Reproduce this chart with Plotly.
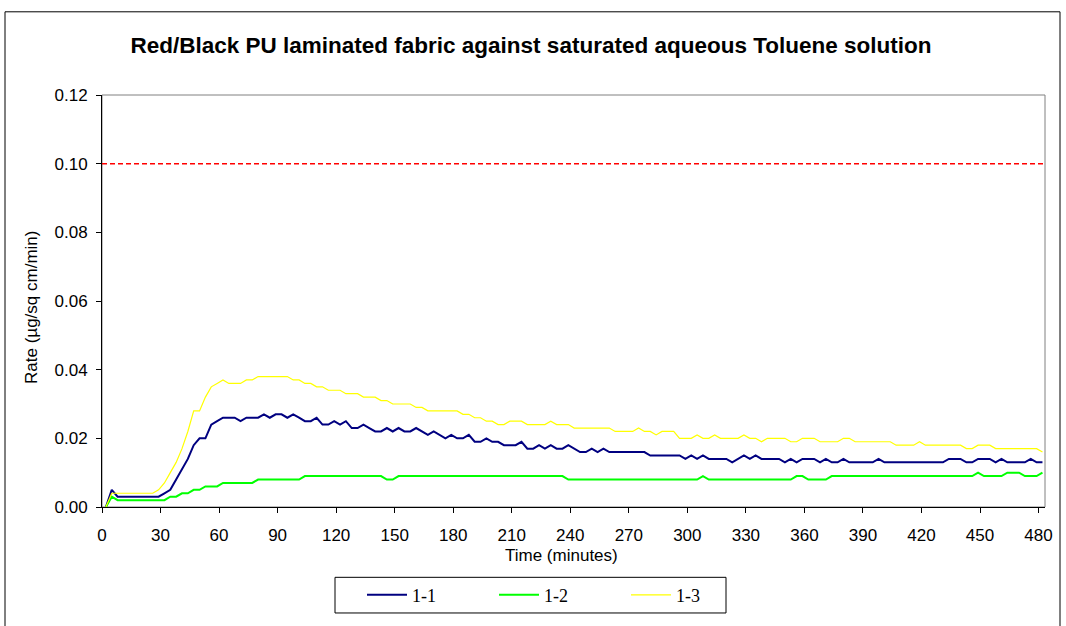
import plotly.graph_objects as go

# ---------------- data ----------------
time_min = list(range(2, 483, 3))  # sampling times (minutes)

rate_1_1 = [
    0.000, 0.005, 0.003, 0.003, 0.003, 0.003, 0.003, 0.003, 0.003, 0.003,
    0.004, 0.005, 0.008, 0.011, 0.014, 0.018, 0.020, 0.020, 0.024, 0.025,
    0.026, 0.026, 0.026, 0.025, 0.026, 0.026, 0.026, 0.027, 0.026, 0.027,
    0.027, 0.026, 0.027, 0.026, 0.025, 0.025, 0.026, 0.024, 0.024, 0.025,
    0.024, 0.025, 0.023, 0.023, 0.024, 0.023, 0.022, 0.022, 0.023, 0.022,
    0.023, 0.022, 0.022, 0.023, 0.022, 0.021, 0.022, 0.021, 0.020, 0.021,
    0.020, 0.020, 0.021, 0.019, 0.019, 0.020, 0.019, 0.019, 0.018, 0.018,
    0.018, 0.019, 0.017, 0.017, 0.018, 0.017, 0.018, 0.017, 0.017, 0.018,
    0.017, 0.016, 0.016, 0.017, 0.016, 0.017, 0.016, 0.016, 0.016, 0.016,
    0.016, 0.016, 0.016, 0.015, 0.015, 0.015, 0.015, 0.015, 0.015, 0.014,
    0.015, 0.014, 0.015, 0.014, 0.014, 0.014, 0.014, 0.013, 0.014, 0.015,
    0.014, 0.015, 0.014, 0.014, 0.014, 0.014, 0.013, 0.014, 0.013, 0.014,
    0.014, 0.014, 0.013, 0.014, 0.013, 0.013, 0.014, 0.013, 0.013, 0.013,
    0.013, 0.013, 0.014, 0.013, 0.013, 0.013, 0.013, 0.013, 0.013, 0.013,
    0.013, 0.013, 0.013, 0.013, 0.014, 0.014, 0.014, 0.013, 0.013, 0.014,
    0.014, 0.014, 0.013, 0.014, 0.013, 0.013, 0.013, 0.013, 0.014, 0.013,
    0.013,
]

rate_1_2 = [
    0.000, 0.003, 0.002, 0.002, 0.002, 0.002, 0.002, 0.002, 0.002, 0.002,
    0.002, 0.003, 0.003, 0.004, 0.004, 0.005, 0.005, 0.006, 0.006, 0.006,
    0.007, 0.007, 0.007, 0.007, 0.007, 0.007, 0.008, 0.008, 0.008, 0.008,
    0.008, 0.008, 0.008, 0.008, 0.009, 0.009, 0.009, 0.009, 0.009, 0.009,
    0.009, 0.009, 0.009, 0.009, 0.009, 0.009, 0.009, 0.009, 0.008, 0.008,
    0.009, 0.009, 0.009, 0.009, 0.009, 0.009, 0.009, 0.009, 0.009, 0.009,
    0.009, 0.009, 0.009, 0.009, 0.009, 0.009, 0.009, 0.009, 0.009, 0.009,
    0.009, 0.009, 0.009, 0.009, 0.009, 0.009, 0.009, 0.009, 0.009, 0.008,
    0.008, 0.008, 0.008, 0.008, 0.008, 0.008, 0.008, 0.008, 0.008, 0.008,
    0.008, 0.008, 0.008, 0.008, 0.008, 0.008, 0.008, 0.008, 0.008, 0.008,
    0.008, 0.008, 0.009, 0.008, 0.008, 0.008, 0.008, 0.008, 0.008, 0.008,
    0.008, 0.008, 0.008, 0.008, 0.008, 0.008, 0.008, 0.008, 0.009, 0.009,
    0.008, 0.008, 0.008, 0.008, 0.009, 0.009, 0.009, 0.009, 0.009, 0.009,
    0.009, 0.009, 0.009, 0.009, 0.009, 0.009, 0.009, 0.009, 0.009, 0.009,
    0.009, 0.009, 0.009, 0.009, 0.009, 0.009, 0.009, 0.009, 0.009, 0.010,
    0.009, 0.009, 0.009, 0.009, 0.010, 0.010, 0.010, 0.009, 0.009, 0.009,
    0.010,
]

rate_1_3 = [
    0.000, 0.004, 0.004, 0.004, 0.004, 0.004, 0.004, 0.004, 0.004, 0.005,
    0.007, 0.010, 0.013, 0.017, 0.022, 0.028, 0.028, 0.032, 0.035, 0.036,
    0.037, 0.036, 0.036, 0.036, 0.037, 0.037, 0.038, 0.038, 0.038, 0.038,
    0.038, 0.038, 0.037, 0.037, 0.036, 0.036, 0.035, 0.035, 0.034, 0.034,
    0.034, 0.033, 0.033, 0.033, 0.032, 0.032, 0.032, 0.031, 0.031, 0.030,
    0.030, 0.030, 0.030, 0.029, 0.029, 0.028, 0.028, 0.028, 0.028, 0.028,
    0.028, 0.027, 0.027, 0.026, 0.026, 0.025, 0.025, 0.024, 0.024, 0.025,
    0.025, 0.025, 0.024, 0.024, 0.024, 0.024, 0.025, 0.024, 0.024, 0.024,
    0.023, 0.023, 0.023, 0.023, 0.023, 0.023, 0.023, 0.022, 0.022, 0.022,
    0.022, 0.023, 0.022, 0.022, 0.021, 0.022, 0.022, 0.022, 0.020, 0.020,
    0.020, 0.021, 0.020, 0.020, 0.021, 0.020, 0.020, 0.020, 0.020, 0.021,
    0.020, 0.020, 0.019, 0.020, 0.020, 0.020, 0.020, 0.019, 0.019, 0.020,
    0.020, 0.020, 0.019, 0.019, 0.019, 0.019, 0.020, 0.020, 0.019, 0.019,
    0.019, 0.019, 0.019, 0.019, 0.019, 0.018, 0.018, 0.018, 0.018, 0.019,
    0.018, 0.018, 0.018, 0.018, 0.018, 0.018, 0.018, 0.017, 0.017, 0.018,
    0.018, 0.018, 0.017, 0.017, 0.017, 0.017, 0.017, 0.017, 0.017, 0.017,
    0.016,
]

series_names = ["1-1", "1-2", "1-3"]
limit_rate = 0.10
x_limit_span = [0, 483.3]

x_ticks = [0, 30, 60, 90, 120, 150, 180, 210, 240, 270, 300, 330, 360, 390, 420, 450, 480]
y_ticks = [0.00, 0.02, 0.04, 0.06, 0.08, 0.10, 0.12]
y_tick_labels = ["0.00", "0.02", "0.04", "0.06", "0.08", "0.10", "0.12"]

title_text = "Red/Black PU laminated fabric against saturated aqueous Toluene solution"
x_title = "Time (minutes)"
y_title = "Rate (µg/sq cm/min)"

# ---------------- layout geometry ----------------
W, H = 1066, 626
ML, MR, MT, MB = 102, 21, 95, 115
PW, PH = W - ML - MR, H - MT - MB


def px_x(p):
    return (p - ML) / PW


def px_y(p):
    return (H - MB - p) / PH


SANS = "Liberation Sans, Arial, sans-serif"
SERIF = "Liberation Serif, Times New Roman, serif"

fig = go.Figure()

fig.add_trace(go.Scatter(
    x=x_limit_span, y=[limit_rate, limit_rate], mode="lines",
    line=dict(color="#FF0000", width=1.5, dash="5px,3px"),
    showlegend=False, hoverinfo="skip"))

colors = ["#000080", "#00FF00", "#FFFF00"]
widths = [2, 2, 1.2]
for name, ys, c, w in zip(series_names, [rate_1_1, rate_1_2, rate_1_3], colors, widths):
    fig.add_trace(go.Scatter(x=time_min, y=ys, mode="lines", name=name,
                             line=dict(color=c, width=w)))

axis_common = dict(
    showline=True, linecolor="black", linewidth=1,
    ticks="outside", ticklen=5, tickcolor="black", tickwidth=1,
    showgrid=False, zeroline=False,
    tickfont=dict(family=SANS, size=17, color="black"),
)

fig.update_xaxes(range=x_limit_span, tickvals=x_ticks,
                 ticktext=[str(v) for v in x_ticks], ticklabelstandoff=8,
                 **axis_common)
fig.update_yaxes(range=[0, 0.12], tickvals=y_ticks, ticktext=y_tick_labels,
                 ticklabelstandoff=5, **axis_common)

shapes = [
    # plot area border
    dict(type="rect", xref="paper", yref="paper", x0=0, x1=1, y0=0, y1=1,
         line=dict(color="#808080", width=1), layer="below"),
    # chart frame
    dict(type="rect", xref="paper", yref="paper",
         x0=px_x(5), x1=px_x(1060), y0=px_y(640), y1=px_y(11),
         line=dict(color="black", width=1), layer="below"),
    # legend box
    dict(type="rect", xref="paper", yref="paper",
         x0=px_x(335), x1=px_x(726), y0=px_y(618), y1=px_y(582),
         line=dict(color="black", width=1), fillcolor="white", layer="below"),
]

annotations = [
    dict(text=x_title, xref="paper", yref="paper", x=px_x(561), y=px_y(560),
         xanchor="center", yanchor="middle", showarrow=False,
         font=dict(family=SANS, size=17, color="black")),
    dict(text=y_title, xref="paper", yref="paper", x=px_x(32), y=px_y(310),
         xanchor="center", yanchor="middle", showarrow=False, textangle=-90,
         font=dict(family=SANS, size=17, color="black")),
]

fig.update_layout(
    width=W, height=H,
    margin=dict(l=ML, r=MR, t=MT, b=MB),
    paper_bgcolor="white", plot_bgcolor="white",
    title=dict(text=title_text, x=531 / W, xanchor="center",
               y=1 - 45 / H, yanchor="middle",
               font=dict(family=SANS, size=22.5, color="black", weight="bold")),
    shapes=shapes, annotations=annotations,
    showlegend=True,
    legend=dict(orientation="h", x=px_x(362), xanchor="left",
                y=px_y(600), yanchor="middle",
                bgcolor="rgba(0,0,0,0)", borderwidth=0,
                itemwidth=40,
                entrywidth=77, entrywidthmode="pixels",
                font=dict(family=SERIF, size=18, color="black")),
)

fig.write_html("out.html",
               config={"displayModeBar": False},
               post_script="document.body.style.margin='0';"
                           "document.body.style.overflow='hidden';")
